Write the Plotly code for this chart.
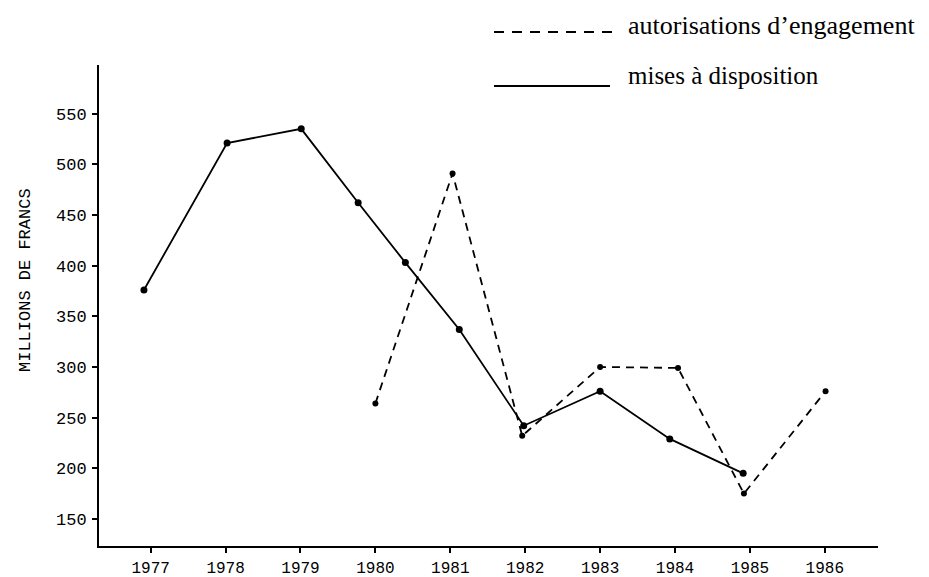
import plotly.graph_objects as go

# ---- data ----
years = [1977, 1978, 1979, 1980, 1981, 1982, 1983, 1984, 1985, 1986]
y_ticks = [150, 200, 250, 300, 350, 400, 450, 500, 550]

mises_x = [1976.91, 1978.02, 1979.01, 1979.77, 1980.40, 1981.12, 1981.98, 1983.00, 1983.93, 1984.91]
mises_y = [376, 521, 535, 462, 403, 337, 242, 276, 229, 195]

autor_x = [1980.00, 1981.03, 1981.96, 1983.00, 1984.04, 1984.92, 1986.01]
autor_y = [264, 491, 232, 300, 299, 175, 276]

legend_labels = ["autorisations d\u2019engagement", "mises \u00e0 disposition"]
y_title = "MILLIONS DE FRANCS"

# ---- layout geometry (screen pixels; page body adds an 8px offset) ----
OFF = 8
W, H = 929, 577
PL, PR, PT, PB = 99, 878, 65, 546          # plot area on screen
L, T = PL - OFF, PT - OFF
R, B = W - (PR - OFF), H - (PB - OFF)
PW, PH = PR - PL, PB - PT


def px(x):
    return (x - PL) / PW


def py(y):
    return (PB - y) / PH


fig = go.Figure()
fig.add_trace(go.Scatter(
    x=mises_x, y=mises_y, mode="lines+markers", name=legend_labels[1],
    line=dict(color="black", width=1.8),
    marker=dict(color="black", size=7),
    showlegend=False,
))
fig.add_trace(go.Scatter(
    x=autor_x, y=autor_y, mode="lines+markers", name=legend_labels[0],
    line=dict(color="black", width=1.8, dash="8px,6px"),
    marker=dict(color="black", size=6),
    showlegend=False,
))

mono = "Liberation Mono"
fig.update_layout(
    width=W, height=H,
    margin=dict(l=L, r=R, t=T, b=B, pad=0),
    paper_bgcolor="white", plot_bgcolor="white",
    xaxis=dict(
        range=[1976.31, 1986.71], tickvals=years, ticktext=[str(y) for y in years],
        showgrid=False, zeroline=False, showline=True, linecolor="black", linewidth=2,
        ticks="outside", ticklen=5, tickwidth=2, tickcolor="black",
        ticklabelstandoff=1, automargin=False,
        tickfont=dict(family=mono, size=16, color="black"),
    ),
    yaxis=dict(
        range=[123.3, 598], tickvals=y_ticks, ticktext=[str(v) for v in y_ticks],
        showgrid=False, zeroline=False, showline=True, linecolor="black", linewidth=2,
        ticks="outside", ticklen=5, tickwidth=2, tickcolor="black",
        ticklabelstandoff=2, automargin=False,
        tickfont=dict(family=mono, size=17, color="black"),
    ),
)

# y-axis title
fig.add_annotation(
    text=y_title, xref="paper", yref="paper", x=px(25), y=py(280),
    xanchor="center", yanchor="middle", textangle=-90, showarrow=False,
    font=dict(family=mono, size=17, color="black"),
)

# legend drawn as line samples + text
fig.add_shape(type="line", xref="paper", yref="paper",
              x0=px(494), x1=px(613), y0=py(32), y1=py(32),
              line=dict(color="black", width=2, dash="10px,8px"))
fig.add_shape(type="line", xref="paper", yref="paper",
              x0=px(494), x1=px(610), y0=py(86), y1=py(86),
              line=dict(color="black", width=2))
serif = "Liberation Serif"
fig.add_annotation(
    text=legend_labels[0], xref="paper", yref="paper", x=px(626), y=py(26),
    xanchor="left", yanchor="middle", showarrow=False,
    font=dict(family=serif, size=26, color="black"),
)
fig.add_annotation(
    text=legend_labels[1], xref="paper", yref="paper", x=px(626), y=py(76),
    xanchor="left", yanchor="middle", showarrow=False,
    font=dict(family=serif, size=25, color="black"),
)

fig.write_html("out.html")
